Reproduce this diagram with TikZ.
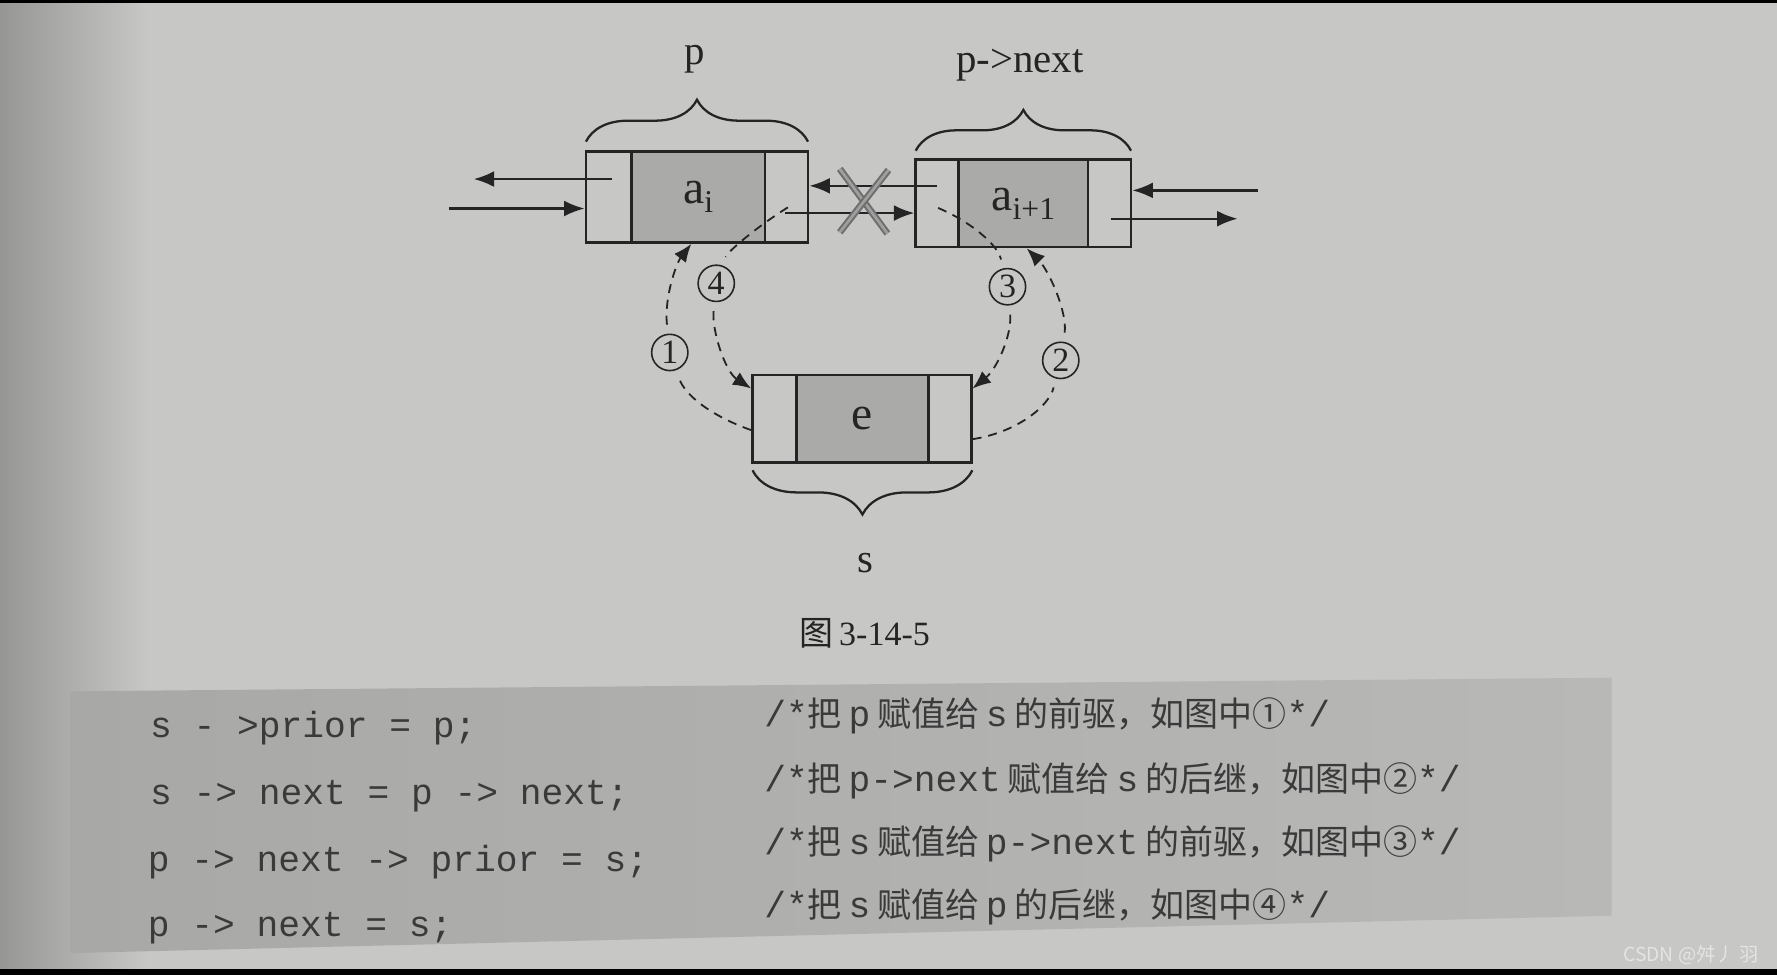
\documentclass[tikz,border=0pt]{standalone}
\usepackage{fontspec}
\setmainfont{Liberation Serif}
\newfontfamily\cjkf{Noto Sans CJK SC}
\newfontfamily\monof{Liberation Mono}
\usetikzlibrary{arrows.meta,decorations.pathreplacing,calc}
\definecolor{pagec}{RGB}{199,199,197}
\definecolor{pagedark}{RGB}{150,150,149}
\definecolor{codec}{RGB}{184,184,183}
\definecolor{codedark}{RGB}{168,168,167}
\definecolor{datac}{RGB}{170,170,169}
\definecolor{ink}{RGB}{36,36,36}
\definecolor{crossc}{RGB}{110,110,110}
\definecolor{wmc}{RGB}{228,228,228}
\newcommand{\Cd}[1]{{\monof\fontsize{16}{18}\selectfont #1}}
\newcommand{\Zh}[1]{{\cjkf\fontsize{15}{18}\selectfont #1}}
\begin{document}
\begin{tikzpicture}[x=0.5pt,y=-0.5pt,
  cellbox/.style={draw=ink,line width=1.2pt,inner sep=0pt,rectangle},
  datacell/.style={draw=ink,fill=datac,line width=1.2pt,inner sep=0pt,rectangle,text=ink,font=\fontsize{21}{21}\selectfont},
  arr/.style={draw=ink,line width=1pt,-{Latex[length=9pt,width=7pt]}},
  dashlink/.style={draw=ink,line width=0.8pt,dash pattern=on 4pt off 3pt},
  dasharr/.style={dashlink,-{Latex[length=8pt,width=6.5pt]}},
  numc/.style={circle,draw=ink,line width=0.7pt,fill=pagec,minimum size=16pt,inner sep=0pt,text=ink,font=\fontsize{15}{15}\selectfont},
  lbl/.style={text=ink,inner sep=0pt,font=\fontsize{18}{18}\selectfont},
  brc/.style={draw=ink,line width=1pt,decorate},
  crossln/.style={draw=crossc,line width=0.9pt,double=gray!75,double distance=1.2pt},
  code/.style={text=ink!90,inner sep=0pt,font=\monof\fontsize{16}{18}\selectfont},
  cmt/.style={text=ink!90,inner sep=0pt}
]
\useasboundingbox (0,0) rectangle (1568,860);
% page
\fill[pagec] (0,0) rectangle (1568,860);
\shade[left color=pagedark,right color=pagec] (0,0) rectangle (130,860);
\fill[black] (0,0) rectangle (1568,3);
\fill[black] (0,855) rectangle (1568,860);
% code box
\shade[left color=codedark,right color=codec] (62,610) -- (1422,598) -- (1422,808) -- (62,841) -- cycle;

% list nodes
\node[datacell,minimum width=59pt,minimum height=40pt] (pd) at (616,174) {a\raisebox{-4pt}{\fontsize{14}{14}\selectfont i}};
\node[cellbox,minimum width=98pt,minimum height=40pt] (p) at (615,174) {};
\node[datacell,minimum width=57pt,minimum height=38.5pt] (nd) at (903,179.5) {a\raisebox{-4pt}{\fontsize{14}{14}\selectfont i+1}};
\node[cellbox,minimum width=95pt,minimum height=38.5pt] (n) at (903,179.5) {};
\node[datacell,minimum width=58pt,minimum height=38.5pt] (sd) at (761,369.5) {e};
\node[cellbox,minimum width=96.5pt,minimum height=38.5pt] (s) at (760.5,369.5) {};

% braces and labels
\draw[brc,decoration={brace,amplitude=18.5pt}] (517,125) -- (713,125);
\draw[brc,decoration={brace,amplitude=18pt}] (808,133) -- (998,133);
\draw[brc,decoration={brace,amplitude=19.5pt}] (858,415) -- (664,415);
\node[lbl,anchor=base] (lp) at (613,57) {p};
\node[lbl,anchor=base] (ln) at (900,64) {p->next};
\node[lbl,anchor=base] (ls) at (764,505) {s};
\node[text=ink,inner sep=0pt,anchor=base,font=\fontsize{15}{15}\selectfont] (cap) at (763,570) {{\cjkf 图}\,3-14-5};

% solid arrows
\coordinate (pLo) at (418,158);
\coordinate (pLt) at (540,158);
\draw[arr] (pLt) -- (pLo);
\coordinate (pLi) at (396,184);
\draw[arr] (pLi) -- (p.west |- pLi);
\coordinate (pRt) at (693,188);
\draw[arr] (pRt) -- (n.west |- pRt);
\coordinate (nLt) at (827,164);
\draw[arr] (nLt) -- (p.east |- nLt);
\coordinate (nRi) at (1110,168);
\draw[arr] (nRi) -- (n.east |- nRi);
\coordinate (nRt) at (980,193);
\coordinate (nRo) at (1092,193);
\draw[arr] (nRt) -- (nRo);

% cross
\draw[crossln] (741,149) -- (783,206);
\draw[crossln] (784,150) -- (741,205);

% numbered labels
\node[numc] (k1) at (591,311) {1};
\node[numc] (k2) at (936,318) {2};
\node[numc] (k3) at (889,253) {3};
\node[numc] (k4) at (632,250) {4};

% dashed links
\coordinate (s1) at ($(s.west)+(0,10)$);
\coordinate (t1) at ($(p.south)+(-5,0)$);
\draw[dashlink,shorten >=4pt] (s1) .. controls (630,368) and (605,350) .. (k1);
\draw[dasharr,shorten <=4pt] (k1) .. controls (586,262) and (597,232) .. (t1);

\coordinate (s2) at ($(s.east)+(0,18)$);
\coordinate (t2) at ($(n.south)+(3,0)$);
\draw[dashlink,shorten >=4pt] (s2) .. controls (895,382) and (925,360) .. (k2);
\draw[dasharr,shorten <=4pt] (k2) .. controls (942,275) and (925,238) .. (t2);

\coordinate (u3) at ($(n.west)+(21,4)$);
\coordinate (t3) at ($(s.north east)+(0,13)$);
\draw[dashlink,shorten >=4pt] (u3) .. controls (855,195) and (880,215) .. (k3);
\draw[dasharr,shorten <=4pt] (k3) .. controls (893,295) and (880,325) .. (t3);

\coordinate (u4) at ($(p.east)+(-19,9)$);
\coordinate (t4) at ($(s.north west)+(0,13)$);
\draw[dashlink,shorten >=4pt] (u4) .. controls (668,200) and (642,222) .. (k4);
\draw[dasharr,shorten <=4pt] (k4) .. controls (628,292) and (640,328) .. (t4);

% code
\node[code,anchor=base west] (L1) at (132,651) {s - >prior = p;};
\node[code,anchor=base west] (L2) at (132,710) {s -> next = p -> next;};
\node[code,anchor=base west] (L3) at (130,769) {p -> next -> prior = s;};
\node[code,anchor=base west] (L4) at (130,826) {p -> next = s;};

\node[cmt,anchor=base west] (C1) at (674,641) {\Cd{/*}\Zh{把}\hspace{3pt}\Cd{p}\hspace{3pt}\Zh{赋值给}\hspace{3pt}\Cd{s}\hspace{3pt}\Zh{的前驱，如图中①}\Cd{*/}};
\node[cmt,anchor=base west] (C2) at (674,698) {\Cd{/*}\Zh{把}\hspace{3pt}\Cd{p->next}\hspace{3pt}\Zh{赋值给}\hspace{3pt}\Cd{s}\hspace{3pt}\Zh{的后继，如图中②}\Cd{*/}};
\node[cmt,anchor=base west] (C3) at (674,754) {\Cd{/*}\Zh{把}\hspace{3pt}\Cd{s}\hspace{3pt}\Zh{赋值给}\hspace{3pt}\Cd{p->next}\hspace{3pt}\Zh{的前驱，如图中③}\Cd{*/}};
\node[cmt,anchor=base west] (C4) at (674,810) {\Cd{/*}\Zh{把}\hspace{3pt}\Cd{s}\hspace{3pt}\Zh{赋值给}\hspace{3pt}\Cd{p}\hspace{3pt}\Zh{的后继，如图中④}\Cd{*/}};

% watermark
\node[anchor=base west,inner sep=0pt,text=wmc,font=\cjkf\fontsize{8.5}{10}\selectfont] (wm) at (1432,848) {CSDN @舛丿 羽};
\end{tikzpicture}
\end{document}
